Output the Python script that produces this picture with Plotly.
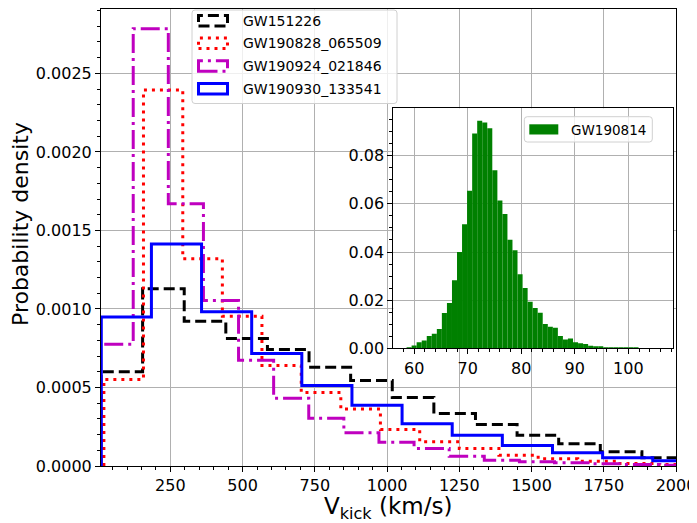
import plotly.graph_objects as go

# ---------------- data ----------------
black_name = "GW151226"
black_edges = [10, 154, 298, 442, 586, 730, 874, 1018, 1162, 1306, 1450, 1594, 1738, 1882, 2026]
black_vals = [0.000600, 0.001129, 0.000922, 0.000812, 0.000742, 0.000629, 0.000545, 0.000436,
              0.000334, 0.000264, 0.000196, 0.000141, 0.0000904, 0.0000522]

red_name = "GW190828_065509"
red_edges = [20, 157, 293, 430, 567, 703, 840, 977, 1113, 1250, 1387, 1523, 1660, 1797, 1933, 2070]
red_vals = [0.000551, 0.002394, 0.001320, 0.000954, 0.000640, 0.000468, 0.000363, 0.000232,
            0.000154, 0.000111, 0.0000690, 0.0000456, 0.0000308, 0.000016, 0.000010]

magenta_name = "GW190924_021846"
magenta_edges = [0, 121.5, 243, 364.5, 486, 607.5, 729, 850.5, 972, 1093.5, 1215, 1336.5,
                 1458, 1579.5, 1701, 1822.5, 1944, 2065.5]
magenta_vals = [0.000776, 0.002785, 0.001670, 0.001054, 0.000673, 0.000431, 0.000304, 0.000211,
                0.000152, 0.000112, 0.0000624, 0.000037, 0.0000268, 0.0000204, 0.000014,
                0.00001, 0.000005]

blue_name = "GW190930_133541"
blue_edges = [11, 184.5, 358, 531.5, 705, 878.5, 1052, 1225.5, 1399, 1572.5, 1746, 1919.5, 2093]
blue_vals = [0.000948, 0.001413, 0.000982, 0.000717, 0.000513, 0.000387, 0.000269, 0.000196,
             0.000131, 0.0000841, 0.0000522, 0.0000331]

inset_name = "GW190814"
inset_edges = [58.58, 59.52, 60.46, 61.41, 62.35, 63.29, 64.23, 65.17, 66.12, 67.06, 68.00,
               68.94, 69.88, 70.83, 71.77, 72.71, 73.65, 74.59, 75.54, 76.48, 77.42, 78.36,
               79.30, 80.25, 81.19, 82.13, 83.07, 84.01, 84.96, 85.90, 86.84, 87.78, 88.72,
               89.67, 90.61, 91.55, 92.49, 93.43, 94.38, 95.32, 96.26, 97.20, 98.14, 99.09,
               100.03, 100.97, 101.91]
inset_vals = [0.0004, 0.0012, 0.0025, 0.0032, 0.0051, 0.0060, 0.0080, 0.0147, 0.0188, 0.0283,
              0.0400, 0.0515, 0.0655, 0.0892, 0.0945, 0.0938, 0.0914, 0.0740, 0.0614, 0.0558,
              0.0451, 0.0407, 0.0308, 0.0251, 0.0193, 0.0167, 0.0148, 0.0101, 0.0090, 0.0085,
              0.0051, 0.0037, 0.0041, 0.0025, 0.0021, 0.0018, 0.0011, 0.0008, 0.0006, 0.0004,
              0.0004, 0.0003, 0.0002, 0.0003, 0.0001, 0.0001]

main_xticks = [250, 500, 750, 1000, 1250, 1500, 1750, 2000]
main_yticks = [0.0000, 0.0005, 0.0010, 0.0015, 0.0020, 0.0025]
inset_xticks = [60, 70, 80, 90, 100]
inset_yticks = [0.00, 0.02, 0.04, 0.06, 0.08]

# ---------------- layout geometry (page pixels) ----------------
PAGE_W, PAGE_H = 697, 523
OFF = 8                          # default body margin of the html page
W, H = PAGE_W - OFF, PAGE_H - OFF
L, R, T, B = 101, 676, 9, 466    # main axes box in page pixels
FONT = "DejaVu Sans"


def px(x):
    return (x - L) / (R - L)


def py(y):
    return (B - y) / (B - T)


def step_xy(edges, vals):
    xs, ys = [edges[0]], [0]
    for i, v in enumerate(vals):
        xs += [edges[i], edges[i + 1]]
        ys += [v, v]
    xs.append(edges[-1])
    ys.append(0)
    return xs, ys


DASH_BLACK = "11px,5px"
DASH_RED = "3px,5px"
DASH_MAG = "19px,5px,3px,5px"

series = [
    (black_name, black_edges, black_vals, "black", DASH_BLACK),
    (red_name, red_edges, red_vals, "red", DASH_RED),
    (magenta_name, magenta_edges, magenta_vals, "#bf00bf", DASH_MAG),
    (blue_name, blue_edges, blue_vals, "blue", "solid"),
]

fig = go.Figure()
for name, e, v, col, dash in series:
    xs, ys = step_xy(e, v)
    fig.add_trace(go.Scatter(x=xs, y=ys, mode="lines", name=name, showlegend=False,
                             line=dict(color=col, width=3, dash=dash),
                             xaxis="x", yaxis="y", hoverinfo="skip"))

inset_w = [inset_edges[i + 1] - inset_edges[i] for i in range(len(inset_vals))]
fig.add_trace(go.Bar(x=inset_edges[:-1], y=inset_vals, width=inset_w, offset=0,
                     marker=dict(color="green", line=dict(width=0)), name=inset_name,
                     showlegend=False, xaxis="x2", yaxis="y2"))

tickfont = dict(family=FONT, size=16, color="black")
axis_common = dict(showline=True, linecolor="black", linewidth=1, mirror=True,
                   ticks="outside", ticklen=5, tickwidth=1, tickcolor="black",
                   showgrid=True, gridcolor="#b0b0b0", gridwidth=1, zeroline=False,
                   tickfont=tickfont)

ix0, ix1, iy0, iy1 = 393.3, 673.3, 108.3, 348.3

fig.update_layout(
    width=W, height=H, autosize=False,
    margin=dict(l=L - OFF, r=PAGE_W - R, t=T - OFF, b=PAGE_H - B, pad=0, autoexpand=False),
    paper_bgcolor="white", plot_bgcolor="white",
    showlegend=False,
    font=dict(family=FONT, color="black"),
    xaxis=dict(range=[10, 2000], tickvals=main_xticks,
               minor=dict(dtick=50, tick0=0, ticks="outside", ticklen=3, tickcolor="black"),
               domain=[0, 1], anchor="y", **axis_common),
    yaxis=dict(range=[0, 0.00291], tickvals=main_yticks, tickformat=".4f",
               minor=dict(dtick=0.0001, tick0=0, ticks="outside", ticklen=3, tickcolor="black"),
               domain=[0, 1], anchor="x", **axis_common),
    xaxis2=dict(range=[56.1, 108.4], tickvals=inset_xticks,
                minor=dict(dtick=2, tick0=0, ticks="outside", ticklen=3, tickcolor="black"),
                domain=[px(ix0), px(ix1)], anchor="y2", **axis_common),
    yaxis2=dict(range=[0, 0.0997], tickvals=inset_yticks, tickformat=".2f",
                minor=dict(dtick=0.005, tick0=0, ticks="outside", ticklen=3, tickcolor="black"),
                domain=[py(iy1), py(iy0)], anchor="x2", **axis_common),
)

shapes = []
annotations = []


def rounded_box(x0, y0, x1, y1, r=3):
    rx, ry = r / (R - L), r / (B - T)
    X0, X1 = px(x0), px(x1)
    Y0, Y1 = py(y1), py(y0)
    return (f"M {X0+rx},{Y0} L {X1-rx},{Y0} Q {X1},{Y0} {X1},{Y0+ry} "
            f"L {X1},{Y1-ry} Q {X1},{Y1} {X1-rx},{Y1} L {X0+rx},{Y1} "
            f"Q {X0},{Y1} {X0},{Y1-ry} L {X0},{Y0+ry} Q {X0},{Y0} {X0+rx},{Y0} Z")


# main legend
shapes.append(dict(type="path", xref="paper", yref="paper",
                   path=rounded_box(192, 10, 397, 103.5),
                   fillcolor="rgba(255,255,255,0.8)", line=dict(color="#d0d0d0", width=1)))
row_y = [20.7, 43.3, 66.0, 88.7]
for (name, e, v, col, dash), yc in zip(series, row_y):
    shapes.append(dict(type="rect", xref="paper", yref="paper",
                       x0=px(198.5), x1=px(227.5), y0=py(yc + 5.2), y1=py(yc - 5.2),
                       line=dict(color=col, width=3, dash=dash), fillcolor="rgba(0,0,0,0)"))
    annotations.append(dict(xref="paper", yref="paper", x=px(240.5), y=py(yc),
                            text=name, showarrow=False, xanchor="left", yanchor="middle",
                            font=dict(family=FONT, size=14, color="black")))

# inset legend
shapes.append(dict(type="path", xref="paper", yref="paper",
                   path=rounded_box(524.3, 116.7, 652.3, 142),
                   fillcolor="rgba(255,255,255,0.8)", line=dict(color="#d0d0d0", width=1)))
shapes.append(dict(type="rect", xref="paper", yref="paper",
                   x0=px(529.3), x1=px(558.3), y0=py(134.5), y1=py(124.3),
                   fillcolor="green", line=dict(width=0)))
annotations.append(dict(xref="paper", yref="paper", x=px(569), y=py(129.5),
                        text=inset_name, showarrow=False, xanchor="left", yanchor="middle",
                        font=dict(family=FONT, size=13.5, color="black")))

# axis titles
annotations.append(dict(xref="paper", yref="paper", x=px(20), y=py(224),
                        text="Probability density", showarrow=False, textangle=-90,
                        xanchor="center", yanchor="middle",
                        font=dict(family=FONT, size=22, color="black")))
annotations.append(dict(xref="paper", yref="paper", x=px(388), y=py(508),
                        text="V<sub>kick</sub> (km/s)", showarrow=False,
                        xanchor="center", yanchor="middle",
                        font=dict(family=FONT, size=23, color="black")))

fig.update_layout(shapes=shapes, annotations=annotations)
fig.write_html("out.html", config={"displayModeBar": False, "responsive": False})
